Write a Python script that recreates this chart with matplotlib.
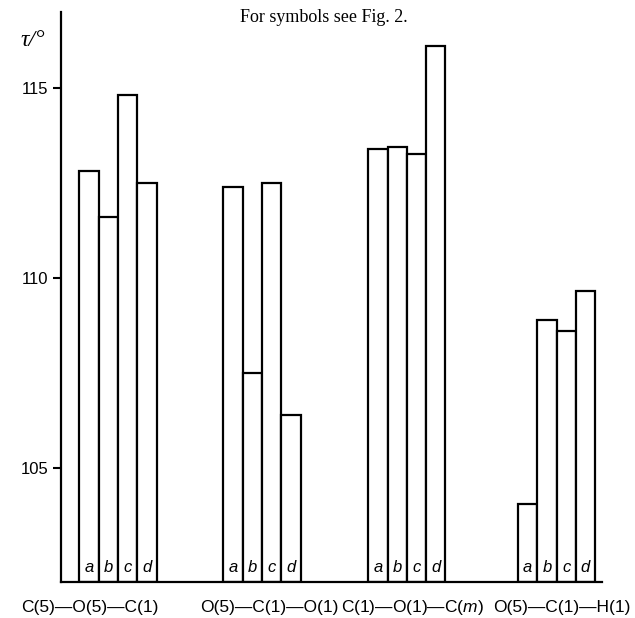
import matplotlib.pyplot as plt
import numpy as np

groups = ["C(5)—O(5)—C(1)", "O(5)—C(1)—O(1)", "C(1)—O(1)—C($\\mathit{m}$)", "O(5)—C(1)—H(1)"]
letters = ["a", "b", "c", "d"]
values = [
    [112.8, 111.6, 114.8, 112.5],
    [112.4, 107.5, 112.5, 106.4],
    [113.4, 113.45, 113.25, 116.1],
    [104.05, 108.9, 108.6, 109.65],
]
yticks = [105, 110, 115]

# left edge of each group (bar width = 1)
group_start = [0.95, 8.4, 15.9, 23.65]
label_x = [1.5, 10.8, 18.2, 25.9]

plt.rcParams["font.family"] = ["Liberation Sans", "DejaVu Sans"]
plt.rcParams["mathtext.fontset"] = "custom"
plt.rcParams["mathtext.rm"] = "Liberation Sans"
plt.rcParams["mathtext.it"] = "Liberation Sans:italic"

fig = plt.figure(figsize=(6.35, 6.18), dpi=100)
ax = fig.add_axes([0.096, 0.058, 0.852, 0.923])

for g, vals in enumerate(values):
    xs = group_start[g] + np.arange(len(vals)) + 0.5
    ax.bar(xs, np.array(vals) - 102, width=1.0, bottom=102,
           facecolor="white", edgecolor="black", linewidth=1.6, zorder=2)
    for x, lt in zip(xs, letters):
        ax.text(x, 102.2, lt, ha="center", va="bottom", fontsize=12,
                style="italic", zorder=3)

ax.set_xlim(0, 28)
ax.set_ylim(102, 117)
ax.spines["top"].set_visible(False)
ax.spines["right"].set_visible(False)
ax.spines["left"].set_linewidth(1.6)
ax.spines["bottom"].set_linewidth(1.6)

ax.set_yticks(yticks)
ax.set_yticklabels([str(t) for t in yticks], fontsize=12)
ax.tick_params(axis="y", length=6, width=1.5, pad=3)
ax.set_xticks([])

trans = ax.get_xaxis_transform()
for x, name in zip(label_x, groups):
    ax.text(x, -0.053, name, transform=trans, ha="center", va="baseline",
            fontsize=12.5, clip_on=False)

fig.text(0.032, 0.935, "τ/°", fontsize=17, style="italic",
         family=["Liberation Serif", "DejaVu Serif"], ha="left", va="center")
fig.text(0.51, 0.972, "For symbols see Fig. 2.", fontsize=13,
         family=["Liberation Serif", "DejaVu Serif"], ha="center", va="center")

plt.savefig("out.png", dpi=100)
